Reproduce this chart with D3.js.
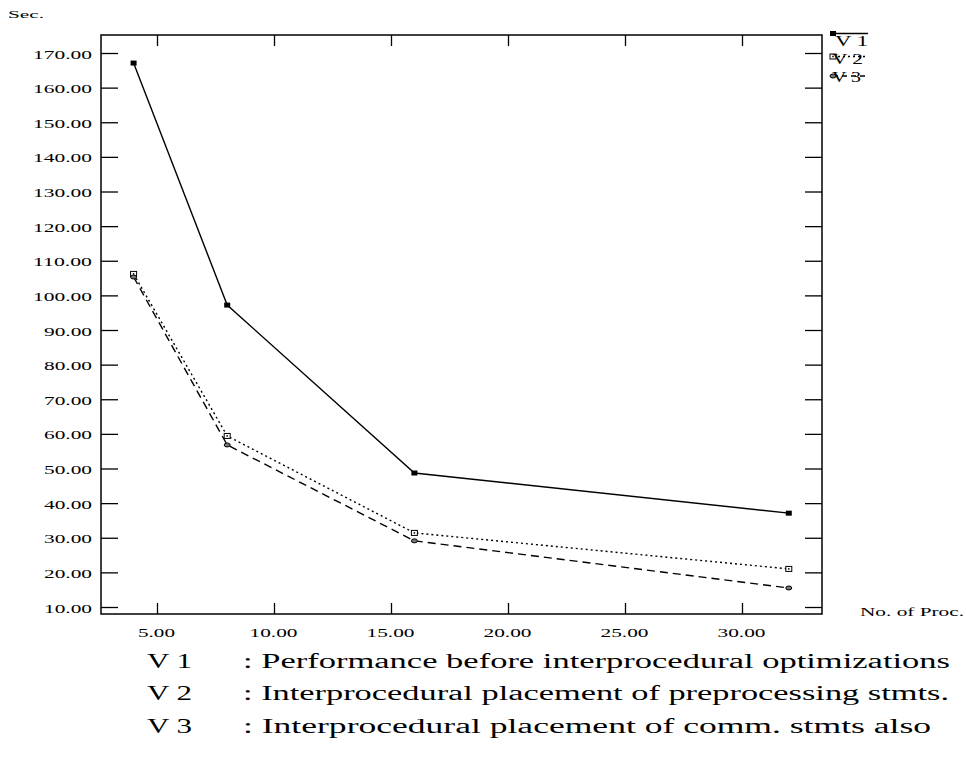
<!DOCTYPE html>
<html><head><meta charset="utf-8">
<script src="https://cdn.jsdelivr.net/npm/d3@7"></script>
<style>body{margin:0;background:#fff}svg{display:block}</style>
</head><body>
<script>
const procs = [4, 8, 16, 32];
const v1 = [167.1, 97.2, 48.7, 37.1];
const v2 = [106.2, 59.4, 31.4, 21.0];
const v3 = [105.3, 56.8, 29.1, 15.5];
const seriesNames = ["V 1", "V 2", "V 3"];
const yTicks = [10,20,30,40,50,60,70,80,90,100,110,120,130,140,150,160,170];
const xTicks = [5,10,15,20,25,30];
const captionKeys = ["V 1", "V 2", "V 3"];
const captionTexts = [": Performance before interprocedural optimizations",
  ": Interprocedural placement of preprocessing stmts.",
  ": Interprocedural placement of comm. stmts also"];

const W = 966, H = 759;
const L = 101, R = 822, T = 35, B = 614;
const svg = d3.select("body").append("svg").attr("width", W).attr("height", H);
const x = d3.scaleLinear().domain([2.607, 33.419]).range([L, R]);
const y = d3.scaleLinear().domain([7.98, 175.2]).range([B, T]);
const font = "'Liberation Serif', 'Times New Roman', serif";

// stretched text helper (the reference is horizontally stretched)
function stext(g, str, x0, y0, size, len, anchor) {
  let sx = x0;
  if (anchor === "end") sx = x0 - len;
  if (anchor === "middle") sx = x0 - len / 2;
  return g.append("text").attr("x", sx).attr("y", y0)
    .attr("font-family", font).attr("font-size", size)
    .attr("textLength", len).attr("lengthAdjust", "spacingAndGlyphs")
    .attr("fill", "#000").text(str);
}
const lblLen = s => s.replace(/[^0-9]/g, "").length * 11 + 4;

// frame
svg.append("rect").attr("x", L).attr("y", T).attr("width", R - L).attr("height", B - T)
  .attr("fill", "none").attr("stroke", "#000").attr("stroke-width", 1.5);

// axes
const fmt = d3.format(".2f");
const gl = svg.append("g").attr("transform", `translate(${L},0)`)
  .call(d3.axisRight(y).tickValues(yTicks).tickSize(17).tickFormat(""));
const gr = svg.append("g").attr("transform", `translate(${R},0)`)
  .call(d3.axisLeft(y).tickValues(yTicks).tickSize(17).tickFormat(""));
const gb = svg.append("g").attr("transform", `translate(0,${B})`)
  .call(d3.axisTop(x).tickValues(xTicks).tickSize(11).tickFormat(""));
const gt = svg.append("g").attr("transform", `translate(0,${T})`)
  .call(d3.axisBottom(x).tickValues(xTicks).tickSize(11).tickFormat(""));
[gl, gr, gb, gt].forEach(g => {
  g.select(".domain").remove();
  g.selectAll(".tick line").attr("stroke", "#000").attr("stroke-width", 1.3);
});
// labels
const gyl = svg.append("g");
yTicks.forEach(d => { const s = fmt(d); stext(gyl, s, 92, y(d) + 5.5, 13.5, lblLen(s), "end"); });
const gxl = svg.append("g");
xTicks.forEach(d => { const s = fmt(d); stext(gxl, s, x(d) - 0.5, 637, 13.5, lblLen(s), "middle"); });
stext(svg, "Sec.", 8, 18, 10.5, 36, "start");
stext(svg, "No. of Proc.", 860, 616, 12.5, 104, "start");

// series
const series = [
  {name: seriesNames[0], vals: v1, dash: null, marker: "fsq"},
  {name: seriesNames[1], vals: v2, dash: "2,3", marker: "osq"},
  {name: seriesNames[2], vals: v3, dash: "8,5", marker: "circ"}
];
const line = d3.line().x(d => x(d[0])).y(d => y(d[1]));
function marker(g, kind, cx, cy) {
  if (kind === "fsq") g.append("rect").attr("x", cx - 3).attr("y", cy - 2.5).attr("width", 6).attr("height", 5).attr("fill", "#000");
  else if (kind === "osq") {
    g.append("rect").attr("x", cx - 3).attr("y", cy - 2.5).attr("width", 6).attr("height", 5).attr("fill", "#fff").attr("stroke", "#000").attr("stroke-width", 1);
    g.append("rect").attr("x", cx - 0.75).attr("y", cy - 0.75).attr("width", 1.5).attr("height", 1.5).attr("fill", "#000");
  } else {
    g.append("ellipse").attr("cx", cx).attr("cy", cy).attr("rx", 3).attr("ry", 2).attr("fill", "#777").attr("stroke", "#000").attr("stroke-width", 1);
  }
}
series.forEach(s => {
  const pts = procs.map((p, i) => [p, s.vals[i]]);
  svg.append("path").attr("d", line(pts)).attr("fill", "none").attr("stroke", "#000")
    .attr("stroke-width", 1.4).attr("stroke-dasharray", s.dash);
  const g = svg.append("g");
  pts.forEach(p => marker(g, s.marker, x(p[0]), y(p[1])));
});

// legend
const legLineY = [33.5, 56.5, 76];
const legTextY = [46, 63.5, 82];
const legTextX = [835, 832, 832];
const legTextW = [33, 31, 29];
series.forEach((s, i) => {
  svg.append("line").attr("x1", 833).attr("x2", 868).attr("y1", legLineY[i]).attr("y2", legLineY[i])
    .attr("stroke", "#000").attr("stroke-width", 1.3).attr("stroke-dasharray", s.dash ? (i === 1 ? "2,3" : "5,4") : null);
  const g = svg.append("g");
  marker(g, s.marker, 833, legLineY[i]);
  stext(svg, s.name, legTextX[i], legTextY[i], 15, legTextW[i], "start");
});

// caption
const capEnds = [950, 949, 931];
captionKeys.forEach((k, i) => {
  const yy = 668 + i * 32.3;
  stext(svg, k, 147, yy, 20.5, 45, "start");
  stext(svg, captionTexts[i], 243, yy, 20.5, capEnds[i] - 243, "start");
});
</script>
</body></html>
